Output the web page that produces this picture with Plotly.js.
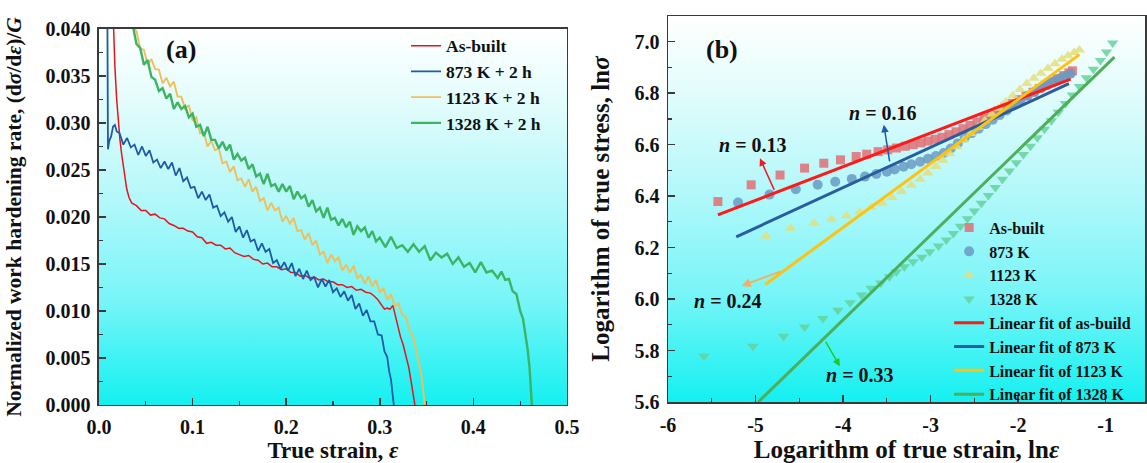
<!DOCTYPE html>
<html>
<head>
<meta charset="utf-8">
<script src="https://cdn.plot.ly/plotly-3.0.1.min.js"></script>
<style>html,body{margin:0;padding:0;background:#fff;}#chart{width:1147px;height:463px;}</style>
</head>
<body>
<div id="chart"></div>
<script>
// ---------- Panel (a): normalized work hardening rate vs true strain ----------
const strainAsBuilt = [0.0140,0.0153,0.0170,0.0189,0.0205,0.0224,0.0242,0.0260,0.0280,0.0296,0.0320,0.0349,0.040,0.045,0.050,0.055,0.060,0.065,0.070,0.075,0.080,0.085,0.090,0.095,0.100,0.105,0.110,0.115,0.120,0.125,0.130,0.135,0.140,0.145,0.150,0.155,0.160,0.165,0.170,0.175,0.180,0.185,0.190,0.195,0.200,0.205,0.210,0.215,0.220,0.225,0.230,0.235,0.240,0.245,0.250,0.255,0.260,0.265,0.270,0.275,0.280,0.285,0.290,0.294,0.298,0.302,0.305,0.308,0.311,0.314,0.316,0.318,0.320,0.322,0.325,0.328,0.331,0.334,0.336,0.3375];
const rateAsBuilt = [0.0450,0.0400,0.0360,0.0325,0.0300,0.0282,0.0267,0.0254,0.0241,0.0230,0.0221,0.0215,0.0212,0.0207,0.0207,0.0202,0.0203,0.0199,0.0198,0.0193,0.0191,0.0188,0.0188,0.0185,0.0184,0.0179,0.0178,0.0172,0.0173,0.0170,0.0170,0.0166,0.0167,0.0162,0.0160,0.0158,0.0159,0.0155,0.0154,0.0150,0.0151,0.0147,0.0147,0.0144,0.0145,0.0141,0.0141,0.0137,0.0138,0.0135,0.0136,0.0133,0.0134,0.0131,0.0131,0.0128,0.0128,0.0125,0.0126,0.0122,0.0123,0.0120,0.0119,0.0116,0.0112,0.0106,0.0102,0.0103,0.0102,0.0106,0.0098,0.0089,0.0080,0.0073,0.0064,0.0052,0.0040,0.0022,0.0010,0.0000];

const strain873 = [0.0088,0.0092,0.0096,0.0110,0.0130,0.0150,0.0170,0.0190,0.022,0.026,0.030,0.034,0.038,0.042,0.046,0.050,0.054,0.058,0.062,0.066,0.070,0.074,0.078,0.082,0.086,0.090,0.094,0.098,0.102,0.106,0.110,0.114,0.118,0.122,0.126,0.130,0.134,0.138,0.142,0.146,0.150,0.154,0.158,0.162,0.166,0.170,0.174,0.178,0.182,0.186,0.190,0.194,0.198,0.202,0.206,0.210,0.214,0.218,0.222,0.226,0.230,0.234,0.238,0.242,0.246,0.250,0.254,0.258,0.262,0.266,0.270,0.274,0.278,0.282,0.286,0.290,0.294,0.298,0.302,0.305,0.308,0.310,0.312,0.313,0.314,0.315];
const rate873 = [0.0450,0.0330,0.0272,0.0281,0.0286,0.0296,0.0298,0.0291,0.0289,0.0277,0.0284,0.0274,0.0277,0.0266,0.0275,0.0265,0.0271,0.0258,0.0261,0.0252,0.0259,0.0251,0.0258,0.0244,0.0252,0.0238,0.0242,0.0231,0.0232,0.0220,0.0227,0.0218,0.0224,0.0210,0.0212,0.0201,0.0205,0.0195,0.0200,0.0184,0.0190,0.0178,0.0186,0.0174,0.0176,0.0164,0.0172,0.0163,0.0166,0.0151,0.0154,0.0145,0.0152,0.0143,0.0151,0.0137,0.0145,0.0134,0.0143,0.0133,0.0136,0.0125,0.0134,0.0126,0.0133,0.0120,0.0124,0.0115,0.0121,0.0111,0.0117,0.0102,0.0108,0.0095,0.0101,0.0089,0.0089,0.0075,0.0074,0.0057,0.0051,0.0036,0.0027,0.0018,0.0009,0.0000];

const strain1123 = [0.033,0.036,0.040,0.044,0.048,0.052,0.056,0.060,0.064,0.068,0.072,0.076,0.080,0.084,0.088,0.092,0.096,0.100,0.104,0.108,0.112,0.116,0.120,0.124,0.128,0.132,0.136,0.140,0.144,0.148,0.152,0.156,0.160,0.164,0.168,0.172,0.176,0.180,0.184,0.188,0.192,0.196,0.200,0.204,0.208,0.212,0.216,0.220,0.224,0.228,0.232,0.236,0.240,0.244,0.248,0.252,0.256,0.260,0.264,0.268,0.272,0.276,0.280,0.284,0.288,0.292,0.296,0.300,0.304,0.308,0.312,0.316,0.320,0.324,0.328,0.332,0.336,0.339,0.342,0.344,0.346,0.347,0.348];
const rate1123 = [0.0425,0.0402,0.0398,0.0379,0.0378,0.0362,0.0368,0.0357,0.0357,0.0342,0.0348,0.0339,0.0344,0.0328,0.0328,0.0315,0.0319,0.0303,0.0306,0.0289,0.0290,0.0275,0.0281,0.0271,0.0273,0.0257,0.0259,0.0248,0.0254,0.0239,0.0241,0.0232,0.0240,0.0227,0.0232,0.0217,0.0220,0.0207,0.0215,0.0207,0.0210,0.0195,0.0201,0.0193,0.0199,0.0185,0.0186,0.0176,0.0183,0.0170,0.0175,0.0160,0.0163,0.0151,0.0160,0.0153,0.0157,0.0143,0.0149,0.0141,0.0148,0.0135,0.0138,0.0129,0.0137,0.0126,0.0133,0.0120,0.0124,0.0112,0.0118,0.0105,0.0108,0.0096,0.0094,0.0079,0.0072,0.0059,0.0046,0.0034,0.0020,0.0010,0.0000];

const strain1328 = [0.033,0.036,0.040,0.044,0.048,0.052,0.056,0.060,0.064,0.068,0.072,0.076,0.080,0.084,0.088,0.092,0.096,0.100,0.104,0.108,0.112,0.116,0.120,0.124,0.128,0.132,0.136,0.140,0.144,0.148,0.152,0.156,0.160,0.164,0.168,0.172,0.176,0.180,0.184,0.188,0.192,0.196,0.200,0.204,0.208,0.212,0.216,0.220,0.224,0.228,0.232,0.236,0.240,0.244,0.248,0.252,0.256,0.260,0.264,0.268,0.272,0.276,0.280,0.284,0.288,0.292,0.296,0.300,0.306,0.312,0.318,0.324,0.330,0.336,0.342,0.348,0.354,0.360,0.366,0.372,0.378,0.384,0.390,0.396,0.402,0.408,0.414,0.420,0.426,0.430,0.434,0.438,0.442,0.446,0.450,0.453,0.456,0.458,0.460,0.461,0.462,0.4625];
const rate1328 = [0.0420,0.0405,0.0384,0.0380,0.0362,0.0367,0.0349,0.0346,0.0334,0.0337,0.0326,0.0331,0.0315,0.0322,0.0315,0.0318,0.0306,0.0310,0.0296,0.0298,0.0286,0.0296,0.0282,0.0282,0.0273,0.0280,0.0271,0.0277,0.0261,0.0267,0.0260,0.0263,0.0251,0.0256,0.0243,0.0246,0.0235,0.0246,0.0233,0.0235,0.0227,0.0235,0.0227,0.0233,0.0219,0.0227,0.0220,0.0223,0.0211,0.0218,0.0206,0.0210,0.0199,0.0210,0.0197,0.0199,0.0191,0.0198,0.0189,0.0195,0.0181,0.0190,0.0185,0.0189,0.0178,0.0185,0.0174,0.0178,0.0168,0.0179,0.0167,0.0170,0.0163,0.0171,0.0163,0.0169,0.0154,0.0162,0.0157,0.0161,0.0150,0.0157,0.0147,0.0151,0.0141,0.0152,0.0141,0.0143,0.0135,0.0142,0.0133,0.0134,0.0121,0.0118,0.0100,0.0092,0.0072,0.0059,0.0040,0.0025,0.0010,0.0000];

const legendA = ['As-built','873 K + 2 h','1123 K + 2 h','1328 K + 2 h'];

// ---------- Panel (b): ln(true stress) vs ln(true strain) ----------
const lnStrainAsBuilt = [-5.43,-5.05,-4.72,-4.44,-4.22,-4.03,-3.85,-3.73,-3.60,-3.49,-3.39,-3.29,-3.20,-3.11,-3.03,-2.95,-2.87,-2.79,-2.71,-2.63,-2.55,-2.47,-2.39,-2.31,-2.23,-2.15,-2.07,-1.99,-1.91,-1.83,-1.76,-1.69,-1.62,-1.55,-1.48,-1.42,-1.38];
const lnStressAsBuilt = [6.379,6.444,6.482,6.509,6.528,6.541,6.554,6.563,6.573,6.580,6.587,6.594,6.600,6.607,6.614,6.621,6.629,6.639,6.650,6.662,6.675,6.688,6.703,6.717,6.731,6.746,6.760,6.775,6.790,6.804,6.818,6.831,6.843,6.856,6.868,6.879,6.887];
const lnStrain873 = [-5.20,-4.84,-4.54,-4.29,-4.09,-3.90,-3.75,-3.62,-3.50,-3.41,-3.31,-3.22,-3.12,-3.03,-2.94,-2.85,-2.77,-2.69,-2.61,-2.53,-2.45,-2.37,-2.29,-2.21,-2.13,-2.05,-1.97,-1.89,-1.81,-1.73,-1.66,-1.59,-1.52,-1.46,-1.40];
const lnStress873 = [6.375,6.406,6.427,6.444,6.456,6.467,6.476,6.486,6.495,6.504,6.514,6.524,6.534,6.545,6.556,6.568,6.585,6.605,6.628,6.645,6.662,6.680,6.697,6.715,6.733,6.752,6.771,6.790,6.806,6.821,6.834,6.847,6.858,6.867,6.876];
const lnStrain1123 = [-4.88,-4.60,-4.33,-4.13,-3.96,-3.81,-3.68,-3.55,-3.44,-3.33,-3.22,-3.12,-3.03,-2.94,-2.86,-2.78,-2.70,-2.62,-2.54,-2.46,-2.38,-2.30,-2.22,-2.14,-2.06,-1.98,-1.90,-1.82,-1.74,-1.66,-1.58,-1.50,-1.43,-1.36,-1.30];
const lnStress1123 = [6.244,6.275,6.295,6.310,6.324,6.339,6.356,6.372,6.395,6.418,6.442,6.466,6.490,6.515,6.540,6.565,6.592,6.618,6.643,6.668,6.693,6.718,6.742,6.766,6.790,6.814,6.838,6.858,6.878,6.897,6.915,6.932,6.946,6.958,6.968];
const lnStrain1328 = [-5.59,-5.03,-4.68,-4.44,-4.23,-4.06,-3.92,-3.79,-3.68,-3.57,-3.47,-3.39,-3.30,-3.20,-3.10,-3.01,-2.91,-2.82,-2.74,-2.66,-2.58,-2.50,-2.42,-2.34,-2.26,-2.18,-2.10,-2.02,-1.94,-1.86,-1.78,-1.70,-1.62,-1.54,-1.46,-1.38,-1.30,-1.22,-1.14,-1.06,-0.99,-0.92];
const lnStress1328 = [5.778,5.817,5.856,5.892,5.925,5.957,5.986,6.016,6.042,6.063,6.087,6.106,6.126,6.145,6.163,6.184,6.206,6.230,6.255,6.283,6.312,6.342,6.372,6.403,6.434,6.466,6.498,6.530,6.562,6.594,6.627,6.660,6.693,6.726,6.760,6.793,6.826,6.860,6.893,6.927,6.960,6.995];

// linear fits (end points)
const fitAsBuiltX = [-5.43,-1.40], fitAsBuiltY = [6.327,6.855];
const fit873X = [-5.22,-1.42],     fit873Y = [6.242,6.837];
const fit1123X = [-4.89,-1.30],    fit1123Y = [6.057,6.950];
const fit1328X = [-4.97,-0.90],    fit1328Y = [5.600,6.940];

const legendBPoints = ['As-built','873 K','1123 K','1328 K'];
const legendBFits = ['Linear fit of as-build','Linear fit of 873 K','Linear fit of 1123 K','Linear fit of 1328 K'];
const nLabels = ['<i>n</i> = 0.13','<i>n</i> = 0.16','<i>n</i> = 0.24','<i>n</i> = 0.33'];

const xTicksB = [-6,-5,-4,-3,-2,-1];
const xTickTextB = ['-6','-5','-4','-3','-2','-1'];

// ---------- styles ----------
const FONT = 'Liberation Serif, Times New Roman, serif';
const cA = ['#e8141c','#1f5aa6','#f0be5a','#3cb464'];
const cFit = ['#ff1a1a','#2b5c9e','#ffc20e','#4caf5a'];

const gradSvg = '<svg xmlns="http://www.w3.org/2000/svg" width="10" height="100" preserveAspectRatio="none">' +
  '<defs><linearGradient id="g" x1="0" y1="0" x2="0" y2="1">' +
  '<stop offset="0" stop-color="#ffffff"/><stop offset="0.2" stop-color="#e2fcfc"/>' +
  '<stop offset="0.45" stop-color="#b4f8fa"/><stop offset="0.72" stop-color="#78f5f8"/>' +
  '<stop offset="1" stop-color="#14f0f0"/></linearGradient></defs>' +
  '<rect width="10" height="100" fill="url(#g)"/></svg>';
const gradUri = 'data:image/svg+xml;charset=utf-8,' + encodeURIComponent(gradSvg);

const traces = [
  {x: strainAsBuilt, y: rateAsBuilt, name: legendA[0], mode:'lines', line:{color:cA[0], width:1.5}, xaxis:'x', yaxis:'y', legend:'legend'},
  {x: strain873, y: rate873, name: legendA[1], mode:'lines', line:{color:cA[1], width:1.8}, xaxis:'x', yaxis:'y', legend:'legend'},
  {x: strain1123, y: rate1123, name: legendA[2], mode:'lines', line:{color:cA[2], width:1.9}, xaxis:'x', yaxis:'y', legend:'legend'},
  {x: strain1328, y: rate1328, name: legendA[3], mode:'lines', line:{color:cA[3], width:2.4}, xaxis:'x', yaxis:'y', legend:'legend'},

  {x: lnStrainAsBuilt, y: lnStressAsBuilt, name: legendBPoints[0], mode:'markers', marker:{symbol:'square', size:9, color:'rgba(226,110,115,0.85)'}, xaxis:'x2', yaxis:'y2', legend:'legend2'},
  {x: lnStrain873, y: lnStress873, name: legendBPoints[1], mode:'markers', marker:{symbol:'circle', size:10, color:'rgba(105,155,195,0.85)'}, xaxis:'x2', yaxis:'y2', legend:'legend2'},
  {x: lnStrain1123, y: lnStress1123, name: legendBPoints[2], mode:'markers', marker:{symbol:'triangle-up', size:10, color:'rgba(228,222,125,0.85)'}, xaxis:'x2', yaxis:'y2', legend:'legend2'},
  {x: lnStrain1328, y: lnStress1328, name: legendBPoints[3], mode:'markers', marker:{symbol:'triangle-down', size:10, color:'rgba(100,210,155,0.85)'}, xaxis:'x2', yaxis:'y2', legend:'legend2'},

  {x: fitAsBuiltX, y: fitAsBuiltY, name: legendBFits[0], mode:'lines', line:{color:cFit[0], width:3}, xaxis:'x2', yaxis:'y2', legend:'legend2'},
  {x: fit873X, y: fit873Y, name: legendBFits[1], mode:'lines', line:{color:cFit[1], width:3}, xaxis:'x2', yaxis:'y2', legend:'legend2'},
  {x: fit1123X, y: fit1123Y, name: legendBFits[2], mode:'lines', line:{color:cFit[2], width:3}, xaxis:'x2', yaxis:'y2', legend:'legend2'},
  {x: fit1328X, y: fit1328Y, name: legendBFits[3], mode:'lines', line:{color:cFit[3], width:3}, xaxis:'x2', yaxis:'y2', legend:'legend2'}
];

const axisCommon = {
  showline:true, linecolor:'#3a3a3a', linewidth:1.5, mirror:true,
  ticks:'inside', ticklen:7, tickwidth:1.5, tickcolor:'#3a3a3a',
  showgrid:false, zeroline:false,
  tickfont:{family:FONT, size:20, color:'#111', weight:'bold'}
};

const layout = {
  width:1147, height:463,
  margin:{l:0, r:0, t:0, b:0},
  paper_bgcolor:'#ffffff', plot_bgcolor:'rgba(0,0,0,0)',
  font:{family:FONT, size:18, color:'#111', weight:'bold'},
  showlegend:true,
  xaxis: Object.assign({}, axisCommon, {
    domain:[0.0863,0.4943], range:[0,0.5], dtick:0.1, tick0:0, tickformat:'.1f', ticklabelstandoff:4,
    minor:{ticks:'inside', ticklen:4, dtick:0.05, tick0:0, tickcolor:'#3a3a3a', tickwidth:1.2},
    anchor:'y',
    title:{text:'True strain, <i>ε</i>', font:{family:FONT, size:23, weight:'bold'}, standoff:2}
  }),
  yaxis: Object.assign({}, axisCommon, {
    domain:[0.1253,0.9374], range:[0,0.040], dtick:0.005, tick0:0, tickformat:'.3f', ticklabelstandoff:3,
    minor:{ticks:'inside', ticklen:4, dtick:0.0025, tick0:0, tickcolor:'#3a3a3a', tickwidth:1.2},
    anchor:'x',
    title:{text:'Normalized work hardening rate, (d<i>σ</i>/d<i>ε</i>)/<i>G</i>', font:{family:FONT, size:21.5, weight:'bold'}, standoff:18}
  }),
  xaxis2: Object.assign({}, axisCommon, {
    domain:[0.5824,0.9983], range:[-6,-0.55], tickmode:'array', tickvals:xTicksB, ticktext:xTickTextB, ticklabelstandoff:4,
    minor:{ticks:'inside', ticklen:4, dtick:0.5, tick0:0, tickcolor:'#3a3a3a', tickwidth:1.2},
    anchor:'y2',
    title:{text:'Logarithm of true strain, ln<i>ε</i>', font:{family:FONT, size:25, weight:'bold'}, standoff:1}
  }),
  yaxis2: Object.assign({}, axisCommon, {
    domain:[0.1317,0.9654], range:[5.6,7.1], dtick:0.2, tick0:0, tickformat:'.1f', ticklabelstandoff:3,
    minor:{ticks:'inside', ticklen:4, dtick:0.1, tick0:0, tickcolor:'#3a3a3a', tickwidth:1.2},
    anchor:'x2',
    title:{text:'Logarithm of true stress, ln<i>σ</i>', font:{family:FONT, size:25, weight:'bold'}, standoff:18}
  }),
  legend:{x:0.354, y:0.94, xanchor:'left', yanchor:'top', bgcolor:'rgba(0,0,0,0)', borderwidth:0,
    font:{family:FONT, size:17.5, color:'#111', weight:'bold'}},
  legend2:{x:0.8275, y:0.545, xanchor:'left', yanchor:'top', bgcolor:'rgba(0,0,0,0)', borderwidth:0,
    font:{family:FONT, size:16, color:'#111', weight:'bold'}},
  images:[
    {source:gradUri, xref:'x domain', yref:'y domain', x:0, y:1, sizex:1, sizey:1, sizing:'stretch', xanchor:'left', yanchor:'top', layer:'below'},
    {source:gradUri, xref:'x2 domain', yref:'y2 domain', x:0, y:1, sizex:1, sizey:1, sizing:'stretch', xanchor:'left', yanchor:'top', layer:'below'}
  ],
  annotations:[
    {text:'(a)', x:0.088, y:0.0378, xref:'x', yref:'y', showarrow:false, font:{family:FONT, size:26, weight:'bold', color:'#111'}},
    {text:'(b)', x:-5.38, y:6.97, xref:'x2', yref:'y2', showarrow:false, font:{family:FONT, size:26, weight:'bold', color:'#111'}},
    {text:nLabels[0], x:-5.03, y:6.60, xref:'x2', yref:'y2', showarrow:false, font:{family:FONT, size:20, weight:'bold', color:'#111'}},
    {text:nLabels[1], x:-3.54, y:6.723, xref:'x2', yref:'y2', showarrow:false, font:{family:FONT, size:20, weight:'bold', color:'#111'}},
    {text:nLabels[2], x:-5.31, y:5.993, xref:'x2', yref:'y2', showarrow:false, font:{family:FONT, size:20, weight:'bold', color:'#111'}},
    {text:nLabels[3], x:-3.808, y:5.704, xref:'x2', yref:'y2', showarrow:false, font:{family:FONT, size:20, weight:'bold', color:'#111'}},
    {text:'', x:-4.95, y:6.547, xref:'x2', yref:'y2', showarrow:true, ax:15, ay:33, arrowhead:2, arrowsize:1, arrowwidth:1.5, arrowcolor:'#ee1c24', standoff:0},
    {text:'', x:-3.534, y:6.677, xref:'x2', yref:'y2', showarrow:true, ax:6, ay:38, arrowhead:2, arrowsize:1, arrowwidth:1.5, arrowcolor:'#1f5aa6', standoff:0},
    {text:'', x:-5.159, y:6.051, xref:'x2', yref:'y2', showarrow:true, ax:40, ay:-15, arrowhead:2, arrowsize:1, arrowwidth:1.8, arrowcolor:'#f0b060', standoff:0},
    {text:'', x:-4.037, y:5.739, xref:'x2', yref:'y2', showarrow:true, ax:-15, ay:-26, arrowhead:2, arrowsize:1, arrowwidth:1.5, arrowcolor:'#1fc81f', standoff:0}
  ]
};

Plotly.newPlot('chart', traces, layout, {displayModeBar:false, staticPlot:true});
</script>
</body>
</html>
